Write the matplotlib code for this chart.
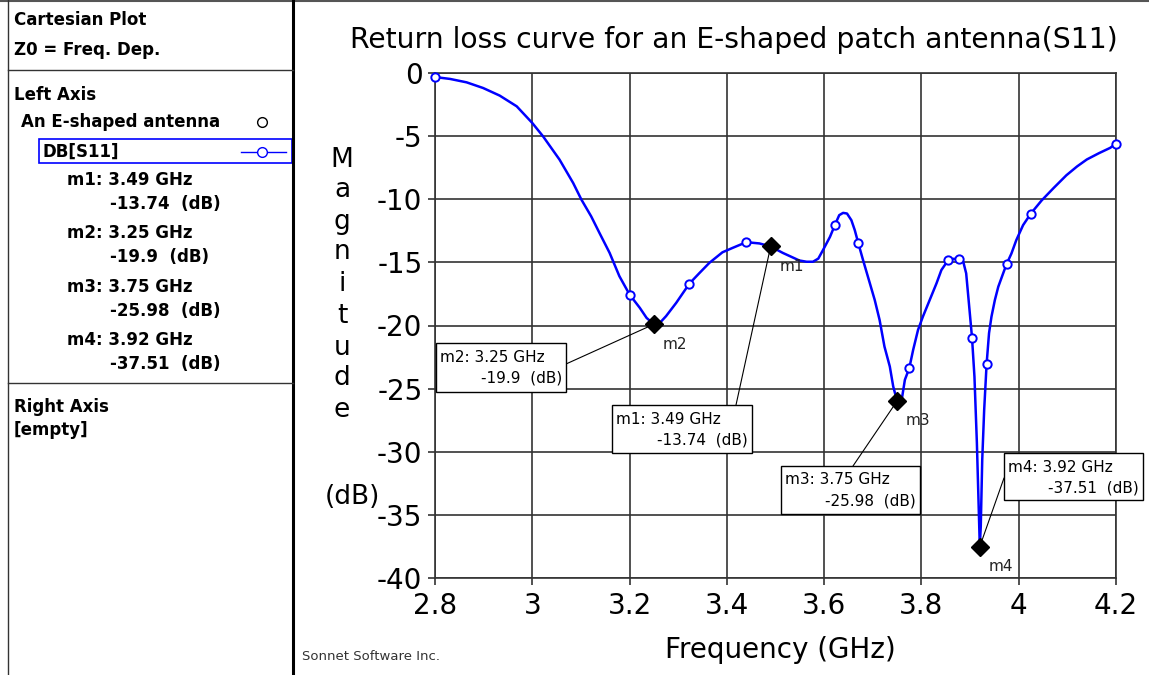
import matplotlib
matplotlib.use('Agg')
import matplotlib.pyplot as plt
from matplotlib.patches import Rectangle
from matplotlib.lines import Line2D
from matplotlib.patches import ConnectionPatch

plt.rcParams['font.family'] = ['DejaVu Sans']
plt.rcParams['axes.unicode_minus'] = False

# ---------------- data ----------------
freq = [2.800, 2.831, 2.865, 2.899, 2.933, 2.968, 3.000, 3.022, 3.056, 3.084,
        3.101, 3.121, 3.138, 3.159, 3.179, 3.200, 3.221, 3.235, 3.250, 3.262,
        3.275, 3.296, 3.323, 3.344, 3.364, 3.391, 3.412, 3.440, 3.467, 3.490,
        3.515, 3.549, 3.564, 3.577, 3.588, 3.598, 3.612, 3.622, 3.631, 3.639,
        3.647, 3.656, 3.663, 3.670, 3.680, 3.694, 3.704, 3.714, 3.724, 3.735,
        3.742, 3.750, 3.760, 3.766, 3.775, 3.783, 3.793, 3.803, 3.817, 3.831,
        3.841, 3.855, 3.866, 3.878, 3.886, 3.892, 3.897, 3.904, 3.909, 3.914,
        3.920, 3.922, 3.925, 3.929, 3.934, 3.939, 3.944, 3.951, 3.958, 3.968,
        3.975, 3.985, 3.995, 4.009, 4.025, 4.047, 4.072, 4.098, 4.120, 4.140,
        4.165, 4.188, 4.200]
s11_db = [-0.32, -0.47, -0.74, -1.19, -1.79, -2.64, -3.96, -5.01, -6.86, -8.71,
          -10.03, -11.35, -12.66, -14.25, -16.09, -17.55, -18.6, -19.4, -19.9, -19.8,
          -19.26, -18.2, -16.68, -15.83, -15.04, -14.2, -13.85, -13.4, -13.5, -13.74,
          -14.25, -14.85, -14.95, -14.95, -14.7, -14.0, -12.98, -12.05, -11.26, -11.08,
          -11.13, -11.66, -12.45, -13.45, -14.82, -16.66, -17.98, -19.56, -21.67, -23.25,
          -24.83, -25.98, -25.75, -24.3, -23.38, -21.93, -20.35, -19.3, -17.98, -16.66,
          -15.61, -14.82, -14.72, -14.72, -14.95, -15.87, -17.98, -20.96, -24.05, -29.3,
          -37.51, -35.9, -30.63, -26.68, -23.04, -20.6, -19.3, -17.98, -16.93, -15.87,
          -15.14, -14.3, -13.24, -12.05, -11.13, -10.1, -9.1, -8.1, -7.4, -6.85,
          -6.35, -5.93, -5.6]

sample_freq = [2.800, 3.200, 3.323, 3.440, 3.622, 3.670, 3.775, 3.855, 3.878,
               3.904, 3.934, 3.975, 4.025, 4.200]
sample_db = [-0.32, -17.55, -16.68, -13.4, -12.05, -13.45, -23.38, -14.82, -14.72,
             -20.96, -23.04, -15.14, -11.13, -5.6]

marker_names = ['m1', 'm2', 'm3', 'm4']
marker_freq = [3.49, 3.25, 3.75, 3.92]
marker_db = [-13.74, -19.9, -25.98, -37.51]

x_ticks = [2.8, 3.0, 3.2, 3.4, 3.6, 3.8, 4.0, 4.2]
x_tick_labels = ['2.8', '3', '3.2', '3.4', '3.6', '3.8', '4', '4.2']
y_ticks = [0, -5, -10, -15, -20, -25, -30, -35, -40]
y_tick_labels = ['0', '-5', '-10', '-15', '-20', '-25', '-30', '-35', '-40']

title = 'Return loss curve for an E-shaped patch antenna(S11)'
x_label = 'Frequency (GHz)'
y_label_letters = list('Magnitude')
y_label_unit = '(dB)'
series_name = 'An E-shaped antenna'
trace_name = 'DB[S11]'

# ---------------- layout helpers ----------------
W, H = 1149, 675
fig = plt.figure(figsize=(W / 100, H / 100), dpi=100)
fig.patch.set_facecolor('white')


def fx(px):
    return px / W


def fy(py):
    return 1 - py / H


BLUE = '#0000FF'
GRID = '#333333'

ax = fig.add_axes([fx(435), fy(578), fx(1116) - fx(435), fy(73) - fy(578)])
ax.plot(freq, s11_db, color=BLUE, lw=1.8, zorder=3, clip_on=False)
ax.plot(sample_freq, sample_db, ls='none', marker='o', ms=6, mfc='white',
        mec=BLUE, mew=1.4, zorder=4, clip_on=False)
ax.plot(marker_freq, marker_db, ls='none', marker='D', ms=9, color='black',
        zorder=5)
ax.set_xlim(2.8, 4.2)
ax.set_ylim(-40, 0)
ax.set_xticks(x_ticks)
ax.set_xticklabels(x_tick_labels)
ax.set_yticks(y_ticks)
ax.set_yticklabels(y_tick_labels)
ax.grid(True, color=GRID, lw=1.2)
ax.set_axisbelow(True)
for s in ax.spines.values():
    s.set_color(GRID)
    s.set_linewidth(1.2)
ax.tick_params(direction='out', length=5, width=1.2, color=GRID,
               labelsize=20)
ax.tick_params(axis='x', pad=5)
ax.tick_params(axis='y', pad=4)

# marker name labels
for n, f, d in zip(marker_names, marker_freq, marker_db):
    ax.annotate(n, xy=(f, d), xytext=(9, -20), textcoords='offset pixels',
                fontsize=11, ha='left', va='center', color='#222222', zorder=6)

# marker annotation boxes: (left, top, right, bottom) in px, attach point px
boxes = {
    'm1': ((612, 405, 752, 453), (736, 405)),
    'm2': ((436, 343, 566, 392), (566, 364)),
    'm3': ((781, 466, 920, 514), (853, 466)),
    'm4': ((1004, 453, 1143, 500), (1004, 478)),
}
for n, f, d in zip(marker_names, marker_freq, marker_db):
    (l, t, r, b), (axp, ayp) = boxes[n]
    rect = Rectangle((fx(l), fy(b)), fx(r) - fx(l), fy(t) - fy(b),
                     transform=fig.transFigure, fc='white', ec='black',
                     lw=1.0, zorder=10)
    fig.patches.append(rect)
    fig.text(fx(l + 4), fy(t + 14), f'{n}: {f:.2f} GHz', fontsize=11,
             ha='left', va='center', zorder=11)
    fig.text(fx(r - 4), fy(t + 35), f'{d:g}  (dB)', fontsize=11,
             ha='right', va='center', zorder=11)
    con = ConnectionPatch(xyA=(f, d), coordsA=ax.transData,
                          xyB=(fx(axp), fy(ayp)), coordsB=fig.transFigure,
                          color='black', lw=0.8, zorder=9)
    fig.add_artist(con)

# title and axis labels
fig.text(fx(734), fy(40), title, fontsize=20.3, ha='center', va='center')
fig.text(fx(780), fy(650), x_label, fontsize=20, ha='center', va='center')
ys = [160, 190, 222, 252, 284, 316, 348, 378, 410]
for ch, yy in zip(y_label_letters, ys):
    fig.text(fx(342), fy(yy), ch, fontsize=19, ha='center', va='center')
fig.text(fx(352), fy(497), y_label_unit, fontsize=19, ha='center', va='center')
fig.text(fx(302), fy(657), 'Sonnet Software Inc.', fontsize=9.5,
         ha='left', va='center', color='#333333')

# ---------------- left panel ----------------
def hline(y, x0, x1, lw=1.0, c='#333333'):
    fig.add_artist(Line2D([fx(x0), fx(x1)], [fy(y), fy(y)],
                          transform=fig.transFigure, color=c, lw=lw))


def vline(x, y0, y1, lw=1.0, c='#333333'):
    fig.add_artist(Line2D([fx(x), fx(x)], [fy(y0), fy(y1)],
                          transform=fig.transFigure, color=c, lw=lw))


hline(1, 0, W, lw=1.5, c='#555555')
vline(8, 0, H, lw=1.0)
vline(293, 0, H, lw=2.2, c='black')
hline(70, 8, 293)
hline(383, 8, 293)

pfs = 12
fig.text(fx(14), fy(20), 'Cartesian Plot', fontsize=pfs, fontweight='bold',
         ha='left', va='center')
fig.text(fx(14), fy(50), 'Z0 = Freq. Dep.', fontsize=pfs, fontweight='bold',
         ha='left', va='center')
fig.text(fx(14), fy(95), 'Left Axis', fontsize=pfs, fontweight='bold',
         ha='left', va='center')
fig.text(fx(21), fy(122), series_name, fontsize=pfs, fontweight='bold',
         ha='left', va='center')
fig.add_artist(Line2D([fx(262)], [fy(122)], transform=fig.transFigure,
                      marker='o', ms=7, mfc='white', mec='black', mew=1.0))
fig.patches.append(Rectangle((fx(39), fy(163)), fx(292) - fx(39),
                             fy(139) - fy(163), transform=fig.transFigure,
                             fc='none', ec=BLUE, lw=1.2))
fig.text(fx(43), fy(152), trace_name, fontsize=pfs, fontweight='bold',
         ha='left', va='center')
fig.add_artist(Line2D([fx(241), fx(286)], [fy(152), fy(152)],
                      transform=fig.transFigure, color=BLUE, lw=1.0))
fig.add_artist(Line2D([fx(262)], [fy(152)], transform=fig.transFigure,
                      marker='o', ms=7, mfc='white', mec=BLUE, mew=1.0))
row_y = [180, 233, 287, 340]
for n, f, d, yy in zip(marker_names, marker_freq, marker_db, row_y):
    fig.text(fx(67), fy(yy), f'{n}: {f:.2f} GHz', fontsize=pfs,
             fontweight='bold', ha='left', va='center')
    fig.text(fx(110), fy(yy + 24), f'{d:g}  (dB)', fontsize=pfs,
             fontweight='bold', ha='left', va='center')
fig.text(fx(14), fy(407), 'Right Axis', fontsize=pfs, fontweight='bold',
         ha='left', va='center')
fig.text(fx(14), fy(430), '[empty]', fontsize=pfs, fontweight='bold',
         ha='left', va='center')

fig.savefig('out.png', dpi=100)
